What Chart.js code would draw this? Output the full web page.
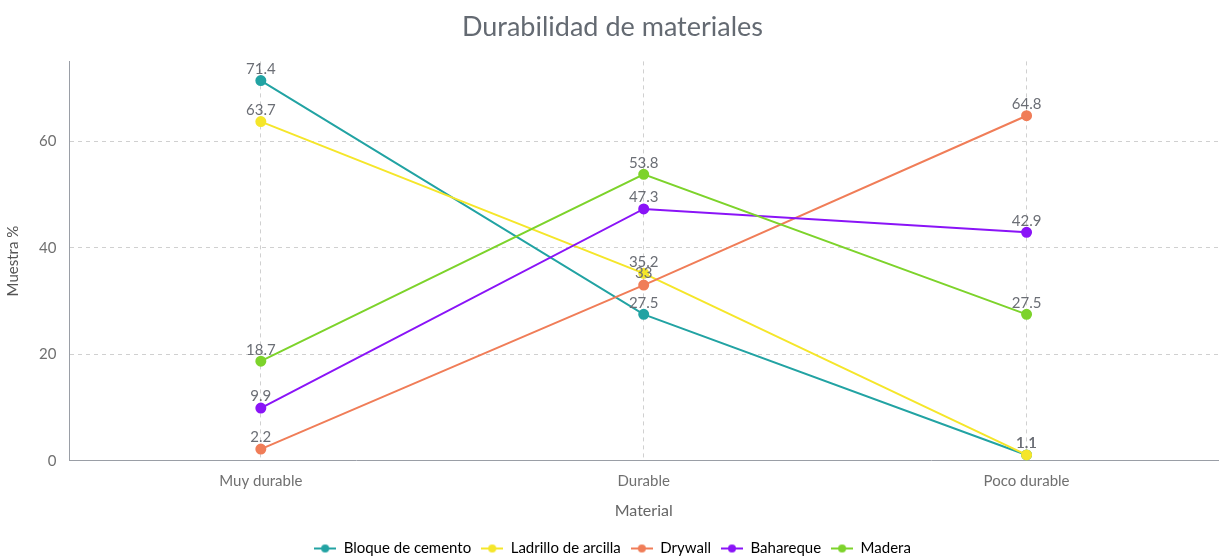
<!DOCTYPE html>
<html>
<head>
<meta charset="utf-8">
<script src="https://cdn.jsdelivr.net/npm/chart.js@4.4.1/dist/chart.umd.min.js"></script>
<style>
  html, body { margin: 0; padding: 0; background: #fff; }
  #wrap { width: 1225px; height: 556px; }
</style>
</head>
<body>
<div id="wrap"><canvas id="durChart"></canvas></div>
<script>
// categories and series
const categories = ['Muy durable', 'Durable', 'Poco durable'];
const bloqueCemento = [71.4, 27.5, 1.1];
const ladrilloArcilla = [63.7, 35.2, 1.1];
const drywall = [2.2, 33, 64.8];
const bahareque = [9.9, 47.3, 42.9];
const madera = [18.7, 53.8, 27.5];
const yTicks = [0, 20, 40, 60];

const seriesNames = ['Bloque de cemento', 'Ladrillo de arcilla', 'Drywall', 'Bahareque', 'Madera'];
const seriesColors = ['#22a3a3', '#f5e62a', '#f07d58', '#8a14f7', '#7dd32b'];
const seriesValues = [bloqueCemento, ladrilloArcilla, drywall, bahareque, madera];

// little line + dot icon for the legend
function legendIcon(color) {
    let c = document.createElement('canvas');
    c.width = 22; c.height = 10;
    let ctx = c.getContext('2d');
    ctx.strokeStyle = color;
    ctx.lineWidth = 2;
    ctx.beginPath();
    ctx.moveTo(0, 5); ctx.lineTo(22, 5);
    ctx.stroke();
    ctx.fillStyle = color;
    ctx.beginPath();
    ctx.arc(11, 5, 4, 0, Math.PI * 2);
    ctx.fill();
    return c;
}

// value labels above each point
const valueLabels = {
    id: 'valueLabels',
    afterDatasetsDraw(chart) {
        const ctx = chart.ctx;
        ctx.save();
        ctx.font = '15px Lato';
        ctx.fillStyle = '#6b6e75';
        ctx.textAlign = 'center';
        ctx.textBaseline = 'bottom';
        chart.data.datasets.forEach((ds, i) => {
            chart.getDatasetMeta(i).data.forEach((pt, j) => {
                ctx.fillText(String(ds.data[j]), pt.x, pt.y - 4);
            });
        });
        ctx.restore();
    }
};

// later series are painted over earlier ones
const datasets = seriesNames.map((name, i) => ({
    label: name,
    data: seriesValues[i],
    order: seriesNames.length - i,
    borderColor: seriesColors[i],
    backgroundColor: seriesColors[i],
    borderWidth: 2,
    pointRadius: 4.5,
    pointHoverRadius: 5,
    pointStyle: 'circle',
    tension: 0
}));

new Chart(document.getElementById('durChart'), {
    type: 'line',
    data: { labels: categories, datasets: datasets },
    options: {
        responsive: true,
        maintainAspectRatio: false,
        animation: false,
        layout: { padding: { left: 0, right: 0, top: 4, bottom: -10 } },
        plugins: {
            title: {
                display: true,
                text: 'Durabilidad de materiales',
                color: '#646a72',
                font: { family: 'Lato', size: 27, weight: 'normal' },
                padding: { top: 7, bottom: 18 }
            },
            legend: {
                position: 'bottom',
                labels: {
                    color: '#555',
                    font: { family: 'Lato', size: 15 },
                    usePointStyle: true,
                    pointStyleWidth: 22,
                    boxWidth: 22,
                    padding: 10,
                    generateLabels(chart) {
                        return chart.data.datasets.map((ds, i) => ({
                            text: ds.label,
                            fillStyle: ds.borderColor,
                            strokeStyle: ds.borderColor,
                            pointStyle: legendIcon(ds.borderColor),
                            lineWidth: 0,
                            datasetIndex: i,
                            hidden: false
                        }));
                    }
                }
            },
            tooltip: { enabled: false }
        },
        scales: {
            x: {
                offset: true,
                grid: {
                    display: true,
                    color: '#d0d0d0',
                    drawTicks: false
                },
                border: { display: true, color: '#9a9ea6', width: 1, dash: [4, 4] },
                ticks: { color: '#707070', font: { family: 'Lato', size: 15 }, padding: 11 },
                title: {
                    display: true,
                    text: 'Material',
                    color: '#666',
                    font: { family: 'Lato', size: 16 },
                    padding: { top: 0, bottom: 11 }
                }
            },
            y: {
                min: 0,
                max: 75,
                afterBuildTicks(axis) {
                    axis.ticks = yTicks.map(v => ({ value: v }));
                },
                grid: {
                    color: '#d0d0d0',
                    drawTicks: false
                },
                border: { display: true, color: '#9a9ea6', width: 1, dash: [4, 4] },
                ticks: { color: '#707070', font: { family: 'Lato', size: 15 }, padding: 13 },
                title: {
                    display: true,
                    text: 'Muestra %',
                    color: '#555',
                    font: { family: 'Lato', size: 15 },
                    padding: { top: 4, bottom: 4 }
                }
            }
        }
    },
    plugins: [valueLabels]
});
</script>
</body>
</html>
